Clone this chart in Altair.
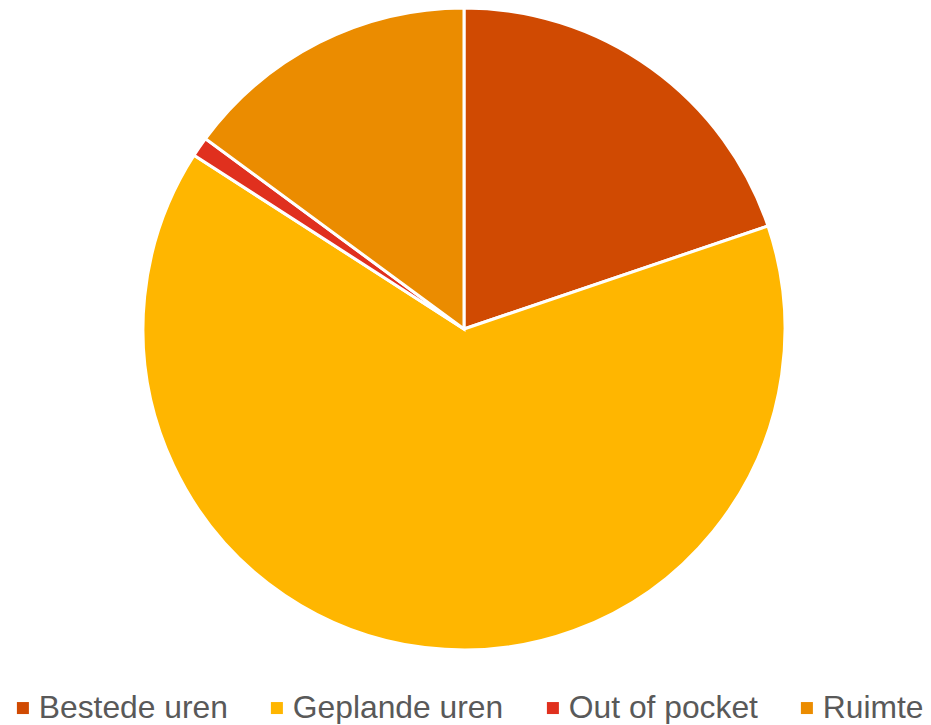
import altair as alt
import pandas as pd

categories = ["Bestede uren", "Geplande uren", "Out of pocket", "Ruimte"]
values = [19.8, 64.3, 1.0, 14.9]
colors = ["#D04A02", "#FFB600", "#E0301E", "#EB8C00"]

df = pd.DataFrame({"cat": categories, "val": values, "ord": list(range(len(categories)))})

chart = alt.Chart(df).mark_arc(radius=321, stroke="white", strokeWidth=3).encode(
    theta=alt.Theta("val:Q", stack=True),
    order=alt.Order("ord:Q"),
    x=alt.value(456),
    y=alt.value(321),
    color=alt.Color(
        "cat:N",
        scale=alt.Scale(domain=categories, range=colors),
        sort=categories,
        legend=alt.Legend(
            title=None,
            orient="none",
            direction="horizontal",
            legendX=-1,
            legendY=684,
            padding=0,
            symbolType="square",
            symbolSize=144,
            symbolStrokeWidth=0,
            labelOffset=0,
            columnPadding=33,
            labelFontSize=31.8,
            labelFont="Liberation Sans",
            labelColor="#595959",
            labelLimit=400,
        ),
    ),
).properties(
    width=915,
    height=716,
    autosize=alt.AutoSizeParams(type="none"),
    padding=0,
).configure_view(stroke=None)

chart.save("out.html", embed_options={"renderer": "svg", "actions": False})
